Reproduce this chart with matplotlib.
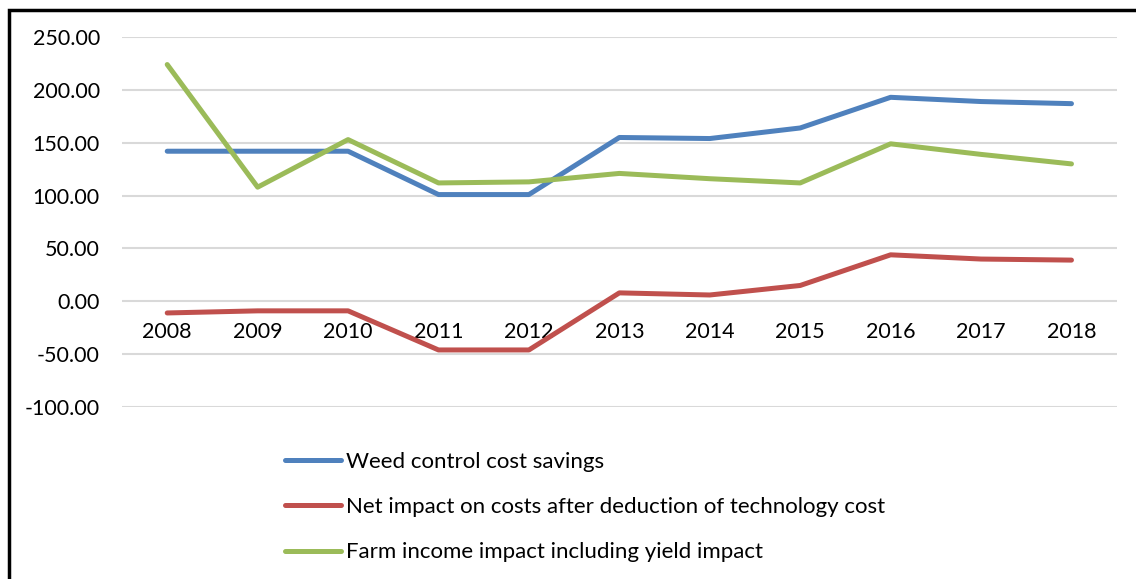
import matplotlib
matplotlib.use("Agg")
import matplotlib.pyplot as plt
from matplotlib.patches import Rectangle

years = ["2008", "2009", "2010", "2011", "2012", "2013", "2014", "2015", "2016", "2017", "2018"]
weed_savings = [142, 142, 142, 101, 101, 155, 154, 164, 193, 189, 187]
net_impact = [-11, -9, -9, -46, -46, 8, 6, 15, 44, 40, 39]
farm_income = [224, 108, 153, 112, 113, 121, 116, 112, 149, 139, 130]

plt.rcParams['font.family'] = ['Lato', 'DejaVu Sans']

fig = plt.figure(figsize=(11.36, 5.79), dpi=100)
ax = fig.add_axes([0.1074, 0.297, 0.8756, 0.639])

x = range(len(years))
ax.plot(x, weed_savings, color='#4F81BD', lw=3.6, solid_capstyle='round',
        solid_joinstyle='round', label="Weed control cost savings")
ax.plot(x, net_impact, color='#C0504D', lw=3.6, solid_capstyle='round',
        solid_joinstyle='round', label="Net impact on costs after deduction of technology cost")
ax.plot(x, farm_income, color='#9BBB59', lw=3.6, solid_capstyle='round',
        solid_joinstyle='round', label="Farm income impact including yield impact")

ax.set_xlim(-0.5, len(years) - 0.5)
ax.set_ylim(-100, 250)
ax.set_yticks(range(-100, 251, 50))
ax.set_yticklabels([f"{v:.2f}" for v in range(-100, 251, 50)])
ax.set_xticks(list(x))
ax.set_xticklabels(years)

ax.grid(axis='y', color='#D9D9D9', lw=1.5)
ax.set_axisbelow(True)
for s in ['top', 'right', 'left']:
    ax.spines[s].set_visible(False)
ax.spines['bottom'].set_position(('data', 0))
ax.spines['bottom'].set_visible(False)
ax.tick_params(axis='x', length=0, pad=15, labelsize=15.5, colors='black')
ax.tick_params(axis='y', length=0, pad=16, labelsize=15.5, colors='black')

fig.legend(loc='upper left', bbox_to_anchor=(0.251, 0.22), frameon=False,
           fontsize=16, handlelength=2.5, handletextpad=0.22, labelspacing=1.14,
           borderaxespad=0, borderpad=0)

fig.patches.append(Rectangle((0.008, -0.1), 1.2, 1.0835, transform=fig.transFigure,
                             fill=False, edgecolor='black', lw=2.5))

fig.savefig("out.png", dpi=100)
